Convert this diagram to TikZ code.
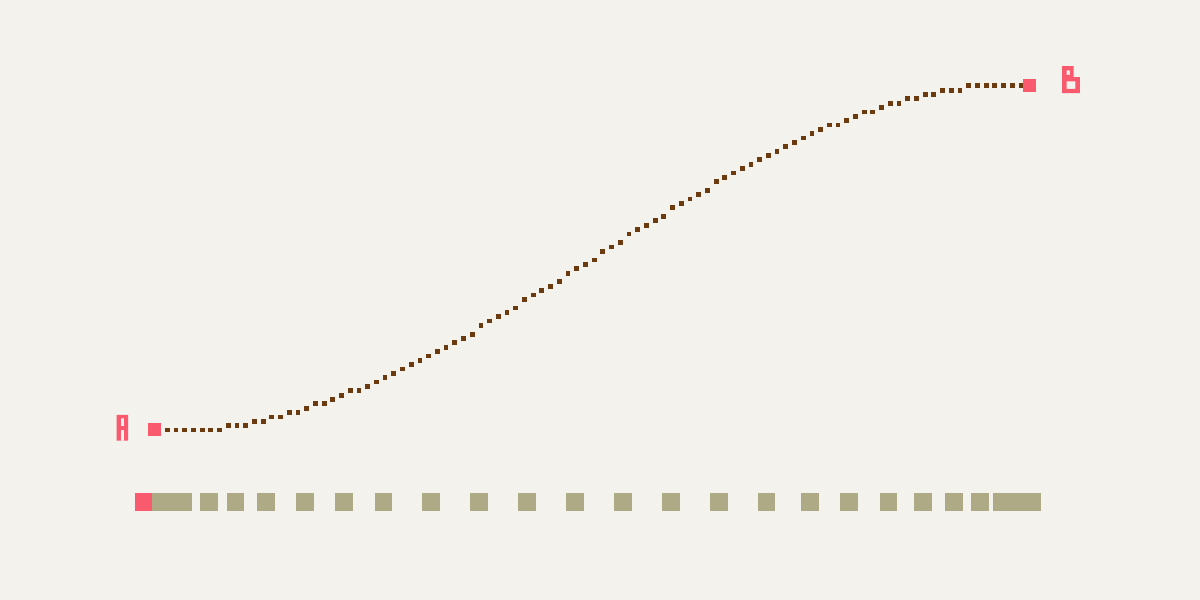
\documentclass[tikz,border=0pt]{standalone}
\definecolor{bgc}{HTML}{F3F2ED}
\definecolor{pinkc}{HTML}{FA5A6E}
\definecolor{olivec}{HTML}{ADAA85}
\definecolor{brownc}{HTML}{6B3A0F}
\tikzset{
  endsq/.style={fill=pinkc, draw=none, minimum size=6.5pt, inner sep=0pt, outer sep=0pt},
  dotsq/.style={fill=brownc, draw=none},
  framesq/.style={fill=olivec, draw=none},
}
\begin{document}
\begin{tikzpicture}[x=0.5pt,y=-0.5pt]
\fill[bgc] (0,0) rectangle (1200,600);
\useasboundingbox (0,0) rectangle (1200,600);
% dotted eased path (quantised levels)
\foreach \L [count=\i from 0] in {0,0,0,0,0,0,0,1,1,1,2,2,3,3,4,4,5,6,6,7,8,9,9,10,11,12,13,14,15,16,17,18,19,20,21,22,24,25,26,27,28,30,31,32,33,34,36,37,38,39,41,42,43,45,46,47,48,49,51,52,53,54,55,57,58,59,60,61,62,63,64,65,66,67,68,69,70,70,71,72,73,73,74,75,75,76,76,77,77,78,78,78,79,79,79,79,79,79,79}{
  \pgfmathsetmacro\xx{167.3+\i*8.711}
  \pgfmathsetmacro\yy{430-\L*4.357}
  \fill[dotsq] (\xx-2.4,\yy-2.4) rectangle ++(4.8,4.8);
}
% end squares
\node[endsq] (A) at (154.5,429.5) {};
\node[endsq] (B) at (1029.5,85.5) {};
% pixel letters
\fill[pinkc, even odd rule] (116.6,414.8) rectangle (128,440.6)
  (120.9,418.4) rectangle (124.2,426) (120.9,430.2) rectangle (124.2,440.6);
\fill[pinkc, even odd rule] (1062,66) -- (1073.6,66) -- (1073.6,77) -- (1079.8,77) -- (1079.8,93) -- (1062,93) -- cycle
  (1066.5,70.4) rectangle (1069.8,74.8) (1066.5,81.4) rectangle (1075.3,88.8);
% timeline frames
\foreach \xl in {200,226.7,257,296,335.3,374.7,422.3,470.3,518,566,614,662,710,757.7,801.3,840.3,879.7,914.3,945,971}{
  \fill[framesq] (\xl,493.3) rectangle ++(17.5,17.4);
}
\fill[framesq] (152.3,493.3) rectangle (191.7,510.7);
\fill[framesq] (993,493.3) rectangle (1041,510.7);
\fill[pinkc] (135,493.3) rectangle (152.3,510.7);
\end{tikzpicture}
\end{document}
